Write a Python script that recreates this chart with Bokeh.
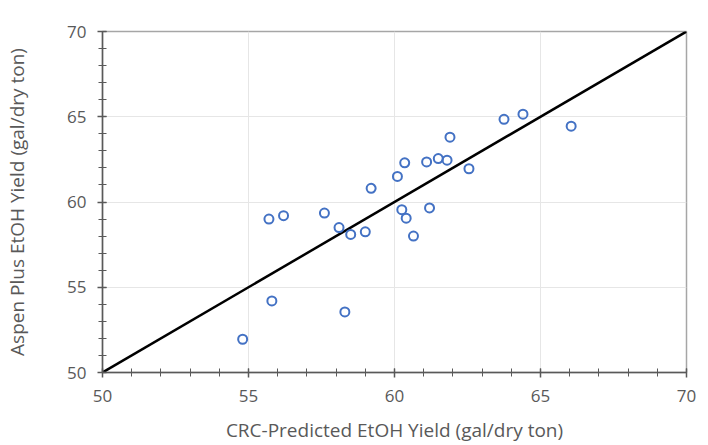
from bokeh.plotting import figure
from bokeh.models import SingleIntervalTicker, ColumnDataSource, Range1d
from bokeh.embed import file_html
from bokeh.resources import INLINE

crc_pred = [54.8, 55.8, 55.7, 56.2, 57.6, 58.1, 58.5, 59.0, 58.3, 59.2,
            60.1, 60.35, 61.1, 61.5, 61.8, 61.9, 62.55, 63.75, 64.4, 66.05,
            60.25, 60.4, 60.65, 61.2]
aspen = [51.95, 54.2, 59.0, 59.2, 59.35, 58.5, 58.1, 58.25, 53.55, 60.8,
         61.5, 62.3, 62.35, 62.55, 62.45, 63.8, 61.95, 64.85, 65.15, 64.45,
         59.55, 59.05, 58.0, 59.65]
parity_x = [50, 70]
parity_y = [50, 70]

src = ColumnDataSource(data=dict(x=crc_pred, y=aspen))

p = figure(width=708, height=445, output_backend="svg", toolbar_location=None,
           x_range=Range1d(50, 70), y_range=Range1d(50, 70),
           min_border_left=102, min_border_right=22, min_border_top=31, min_border_bottom=73)

p.line(parity_x, parity_y, line_color="black", line_width=2.5)
p.scatter("x", "y", source=src, size=9, fill_color=None, line_color="#4472C4", line_width=2)

for ax in (p.xaxis[0], p.yaxis[0]):
    ax.ticker = SingleIntervalTicker(interval=5, num_minor_ticks=5)
    ax.major_tick_in = 4
    ax.major_tick_out = 5
    ax.minor_tick_in = 4
    ax.minor_tick_out = 4
    ax.axis_line_color = "#595959"
    ax.axis_line_width = 1.5
    ax.major_tick_line_color = "#595959"
    ax.major_tick_line_width = 1.5
    ax.minor_tick_line_color = "#595959"
    ax.minor_tick_line_width = 1
    ax.major_label_text_color = "#595959"
    ax.major_label_text_font = "Open Sans"
    ax.major_label_text_font_size = "17px"
    ax.axis_label_text_color = "#595959"
    ax.axis_label_text_font = "Open Sans"
    ax.axis_label_text_font_size = "19px"
    ax.axis_label_text_font_style = "normal"

p.xaxis.axis_label = "CRC-Predicted EtOH Yield (gal/dry ton)"
p.yaxis.axis_label = "Aspen Plus EtOH Yield (gal/dry ton)"
p.xaxis.major_label_standoff = 12
p.yaxis.major_label_standoff = 11
p.xaxis.axis_label_standoff = 12
p.yaxis.axis_label_standoff = 34

p.xgrid.grid_line_color = "#e6e6e6"
p.ygrid.grid_line_color = "#e6e6e6"
p.xgrid.ticker = SingleIntervalTicker(interval=5)
p.ygrid.ticker = SingleIntervalTicker(interval=5)

p.outline_line_color = "#a6a6a6"
p.outline_line_width = 1.5

open("out.html", "w").write(file_html(p, INLINE))
